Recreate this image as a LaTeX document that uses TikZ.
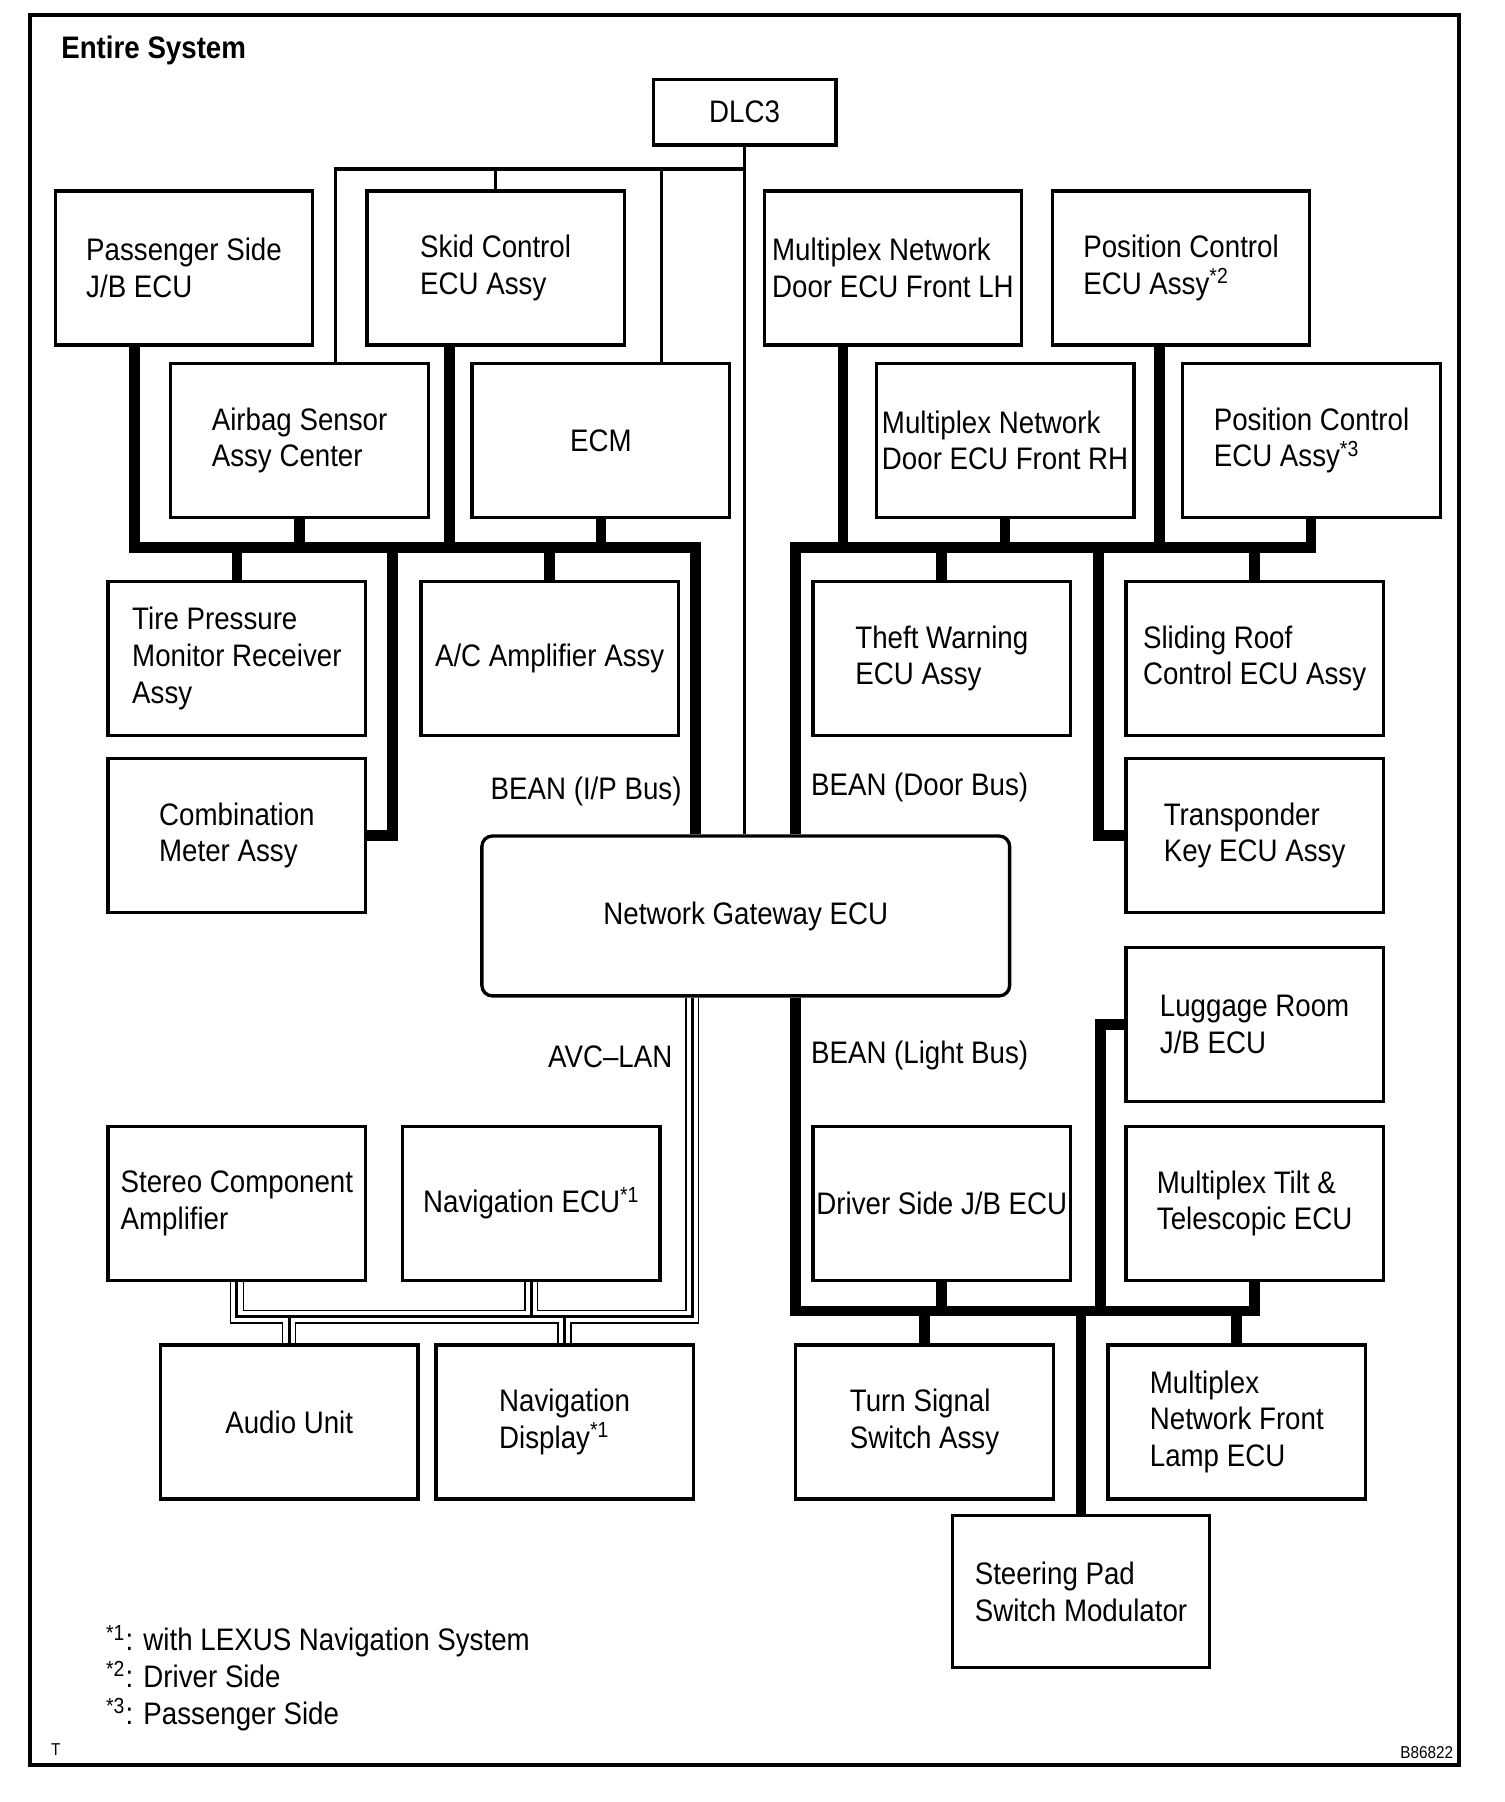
\documentclass[tikz,border=0pt]{standalone}
\usepackage{fontspec}
\setmainfont{Liberation Sans}[FakeStretch=0.89]
\usepackage{tikz}
\usetikzlibrary{backgrounds}
\newcommand{\boxfont}{\fontsize{15.4}{18.2}\selectfont}
\newcommand{\tinyfont}{\fontsize{8.5}{10}\selectfont}
\tikzstyle{unit} = [rectangle, minimum width=4.48cm, minimum height=2.68cm, inner sep=0pt, align=left, draw=black, line width=1.65pt]
\tikzstyle{gateway} = [unit, rounded corners=0.18cm, minimum width=9.18cm, minimum height=2.78cm]
\tikzstyle{buslabel} = [inner sep=0pt]
\tikzstyle{bus} = [line width=5.3pt]
\tikzstyle{diagline} = [line width=1.65pt]
\tikzstyle{avc} = [line width=0.7pt, double=white, double distance=5.7pt]
\tikzstyle{avccore} = [line width=1.5pt]

\begin{document}
\begin{tikzpicture}[x=0.02cm, y=-0.02cm, every node/.style={font=\boxfont}]
\useasboundingbox (0,0) rectangle (1308,1567);
\draw [line width=1.9pt] (26,13) rectangle (1269,1535);
\node (title) [buslabel, anchor=west, font=\boxfont\bfseries] at (53,44) {Entire System};

% units
\node (dlc) [unit, minimum width=3.18cm, minimum height=1.14cm] at (647.5,97.5) {DLC3};
\node (pjb) [unit] at (160,233) {Passenger Side\\J/B ECU};
\node (skid) [unit] at (431,233) {Skid Control\\ECU Assy};
\node (doorlh) [unit] at (776.5,233) {Multiplex Network\\Door ECU Front LH};
\node (posdrv) [unit] at (1027,233) {Position Control\\ECU Assy\textsuperscript{*2}};
\node (airbag) [unit] at (260.5,383) {Airbag Sensor\\Assy Center};
\node (ecm) [unit] at (522.5,383) {ECM};
\node (doorrh) [unit] at (874,383) {Multiplex Network\\Door ECU Front RH};
\node (pospass) [unit] at (1140.5,383) {Position Control\\ECU Assy\textsuperscript{*3}};
\node (tpms) [unit] at (206,572.5) {Tire Pressure\\Monitor Receiver\\Assy};
\node (acamp) [unit] at (478,572.5) {A/C Amplifier Assy};
\node (theft) [unit] at (819,572.5) {Theft Warning\\ECU Assy};
\node (roof) [unit] at (1091,572.5) {Sliding Roof\\Control ECU Assy};
\node (meter) [unit] at (206,726.5) {Combination\\Meter Assy};
\node (transp) [unit] at (1091,726.5) {Transponder\\Key ECU Assy};
\node (gw) [gateway] at (648.5,796.5) {Network Gateway ECU};
\node (luggage) [unit] at (1091,891) {Luggage Room\\J/B ECU};
\node (stereo) [unit] at (206,1046.5) {Stereo Component\\Amplifier};
\node (navecu) [unit] at (462,1046.5) {Navigation ECU\textsuperscript{*1}};
\node (drvjb) [unit] at (819,1046.5) {Driver Side J/B ECU};
\node (tilt) [unit] at (1091,1046.5) {Multiplex Tilt \&\\Telescopic ECU};
\node (audio) [unit] at (251.5,1236.5) {Audio Unit};
\node (navdisp) [unit] at (491,1236.5) {Navigation\\Display\textsuperscript{*1}};
\node (turn) [unit] at (804,1236.5) {Turn Signal\\Switch Assy};
\node (lamp) [unit] at (1075.5,1236.5) {Multiplex\\Network Front\\Lamp ECU};
\node (steer) [unit, minimum height=2.64cm] at (940,1384) {Steering Pad\\Switch Modulator};

% bus names
\node (ipbus) [buslabel, anchor=east] at (593,688) {BEAN (I/P Bus)};
\node (doorbus) [buslabel, anchor=west] at (705,685) {BEAN (Door Bus)};
\node (avclan) [buslabel, anchor=east] at (585,919) {AVC--LAN};
\node (lightbus) [buslabel, anchor=west] at (705,918) {BEAN (Light Bus)};

% DLC3 lines
\coordinate (diagL) at (292,147);
\coordinate (diagEcm) at (575,147);
\draw [diagline] (dlc.south) -- (dlc.south |- gw.north);
\draw [diagline] (dlc.south |- diagL) -- (diagL) -- (diagL |- airbag.north);
\draw [diagline] (skid.north) -- (skid.north |- diagL);
\draw [diagline] (diagEcm) -- (diagEcm |- ecm.north);

% BEAN (I/P Bus)
\coordinate (ipL) at (117,476);
\coordinate (ipR) at (605,476);
\coordinate (ipSkid) at (391,476);
\coordinate (ipMeter) at (341,476);
\draw [bus] (pjb.south -| ipL) -- (ipL) -- (ipR) -- (gw.north -| ipR);
\draw [bus] (airbag.south) -- (airbag.south |- ipL);
\draw [bus] (skid.south -| ipSkid) -- (ipSkid);
\draw [bus] (ecm.south) -- (ecm.south |- ipL);
\draw [bus] (tpms.north) -- (tpms.north |- ipL);
\draw [bus] (acamp.north) -- (acamp.north |- ipL);
\draw [bus] (ipMeter) |- (meter.east);

% BEAN (Door Bus)
\coordinate (doorL) at (692,476);
\coordinate (doorR) at (1140,476);
\coordinate (doorLH) at (733,476);
\coordinate (doorPos) at (1008,476);
\coordinate (doorTr) at (955,476);
\draw [bus] (gw.north -| doorL) -- (doorL) -- (doorR) -- (doorR |- pospass.south);
\draw [bus] (doorlh.south -| doorLH) -- (doorLH);
\draw [bus] (doorrh.south) -- (doorrh.south |- doorL);
\draw [bus] (posdrv.south -| doorPos) -- (doorPos);
\draw [bus] (theft.north) -- (theft.north |- doorL);
\draw [bus] (roof.north) -- (roof.north |- doorL);
\draw [bus] (doorTr) |- (transp.west);

% BEAN (Light Bus)
\coordinate (lightL) at (692,1140);
\coordinate (lightR) at (1091,1140);
\coordinate (lightLug) at (957,1140);
\draw [bus] (gw.south -| lightL) -- (lightL) -- (lightR) -- (tilt.south);
\draw [bus] (drvjb.south) -- (drvjb.south |- lightL);
\draw [bus] (lightLug) |- (luggage.west);
\draw [bus] (turn.north) -- (turn.north |- lightL);
\draw [bus] (steer.north) -- (steer.north |- lightL);
\draw [bus] (lamp.north) -- (lamp.north |- lightL);

% AVC-LAN
\coordinate (avcR) at (602,1145);
\begin{scope}[on background layer]
\draw [avc] (gw.south -| avcR) -- (avcR) -- (avcR -| stereo.south) -- (stereo.south)
  (navecu.south) -- (navecu.south |- avcR)
  (audio.north) -- (audio.north |- avcR)
  (navdisp.north) -- (navdisp.north |- avcR);
\draw [avccore] (gw.south -| avcR) -- (avcR) -- (avcR -| stereo.south) -- (stereo.south)
  (navecu.south) -- (navecu.south |- avcR)
  (audio.north) -- (audio.north |- avcR)
  (navdisp.north) -- (navdisp.north |- avcR);
\end{scope}

% notes
\node (notes) [buslabel, anchor=west, align=left] at (92,1459) {\textsuperscript{*1}: with LEXUS Navigation System\\\textsuperscript{*2}: Driver Side\\\textsuperscript{*3}: Passenger Side};
\node (tmark) [buslabel, anchor=west, font=\tinyfont] at (44,1521) {T};
\node (code) [buslabel, anchor=east, font=\tinyfont] at (1264,1524) {B86822};
\end{tikzpicture}
\end{document}
